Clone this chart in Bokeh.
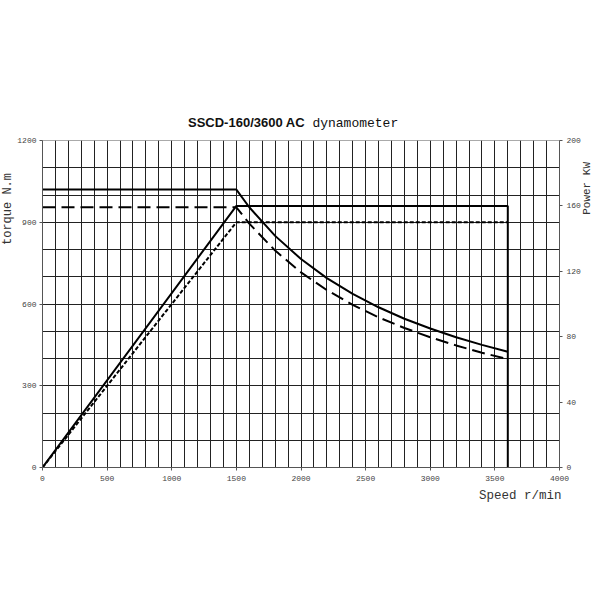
from bokeh.plotting import figure
from bokeh.models import Range1d, LinearAxis, FixedTicker, Div, Title
from bokeh.layouts import column, row
from bokeh.embed import file_html
from bokeh.resources import INLINE

# ---- data ----
speed_torque = [0, 1500, 1600, 1800, 2000, 2200, 2400, 2600, 2800, 3000, 3200, 3400, 3600]
torque_max = [1020, 1020, 955, 850, 765, 695, 637, 588, 546, 510, 478, 450, 425]
torque_rated = [955, 955, 895, 796, 716, 651, 597, 551, 512, 478, 448, 421, 398]

speed_power_max = [0, 1500, 3600, 3600]
power_max = [0, 160, 160, 0]
speed_power_rated = [0, 1500, 3600]
power_rated = [0, 150, 150]

x_ticks = [0, 500, 1000, 1500, 2000, 2500, 3000, 3500, 4000]
y_ticks = [0, 300, 600, 900, 1200]
power_ticks = [0, 40, 80, 120, 160, 200]
x_grid = list(range(100, 4001, 100))
y_grid = list(range(100, 1101, 100))

title_main = "SSCD-160/3600 AC"
title_sub = "dynamometer"
ylabel = "torque N.m"
y2label = "Power KW"
xlabel = "Speed r/min"

title_html = (
    '<div style="position:relative;left:188px;top:115px;white-space:nowrap;'
    'line-height:16px;color:#111111;">'
    '<span style="font-family:\'Liberation Sans\';font-weight:bold;font-size:13px;">'
    f'{title_main}</span>'
    '<span style="font-family:\'Liberation Mono\';font-size:13px;">'
    f' {title_sub}</span></div>'
)
title_div = Div(text=title_html, width=600, height=130, margin=(0, 0, 0, 0))


def vertical_html(text, left, top, size):
    return (
        f'<div style="position:relative;left:{left}px;top:{top}px;'
        'writing-mode:vertical-rl;transform:rotate(180deg);white-space:nowrap;'
        f'font-family:\'Liberation Mono\';font-size:{size}px;line-height:{size}px;'
        f'color:#333333;">{text}</div>'
    )


left_div = Div(text=vertical_html(ylabel, 2, 43, 12), width=14, height=470,
               margin=(0, 0, 0, 0))
right_div = Div(text=vertical_html(y2label, -1, 32, 11), width=20, height=470,
                margin=(0, 0, 0, 0))

p = figure(frame_width=517, frame_height=327, output_backend="svg",
           toolbar_location=None, x_range=Range1d(0, 4000), y_range=Range1d(0, 1200),
           min_border_left=28, min_border_right=21, min_border_top=10,
           min_border_bottom=133, margin=(0, 0, 0, 0))
p.extra_y_ranges = {"power": Range1d(0, 200)}
p.background_fill_color = "white"
p.border_fill_color = "white"
p.outline_line_color = "#aaaaaa"

tick_font = "Liberation Mono"


def style_axis(ax, standoff):
    ax.major_label_text_font = tick_font
    ax.major_label_text_font_size = "8px"
    ax.major_label_text_color = "#444444"
    ax.axis_line_color = "#555555"
    ax.major_tick_line_color = "#555555"
    ax.major_tick_in = 0
    ax.major_tick_out = 3
    ax.minor_tick_line_color = None
    ax.major_label_standoff = standoff


style_axis(p.xaxis[0], 5)
style_axis(p.yaxis[0], 3)
p.xaxis[0].ticker = FixedTicker(ticks=x_ticks)
p.yaxis[0].ticker = FixedTicker(ticks=y_ticks)

ax2 = LinearAxis(y_range_name="power", ticker=FixedTicker(ticks=power_ticks))
style_axis(ax2, 4)
p.add_layout(ax2, "right")

xtitle = Title(text=xlabel, align="right", offset=-2, standoff=10, vertical_align="top",
               text_font="Liberation Mono", text_font_size="12.5px",
               text_font_style="normal", text_color="#333333")
p.add_layout(xtitle, "below")

p.xgrid.ticker = FixedTicker(ticks=x_grid)
p.ygrid.ticker = FixedTicker(ticks=y_grid)
for g in (p.xgrid, p.ygrid):
    g.grid_line_color = "#222222"
    g.grid_line_width = 1
    g.grid_line_alpha = 1

p.line(speed_torque, torque_max, line_color="black", line_width=2)
p.line(speed_torque, torque_rated, line_color="black", line_width=2, line_dash="13 6")
p.line(speed_power_max, power_max, line_color="black", line_width=2, y_range_name="power")
p.line(speed_power_rated, power_rated, line_color="black", line_width=2,
       line_dash="4 2", y_range_name="power")

layout = column(title_div, row(left_div, p, right_div, spacing=0), spacing=0)
open("out.html", "w").write(file_html(layout, INLINE))
